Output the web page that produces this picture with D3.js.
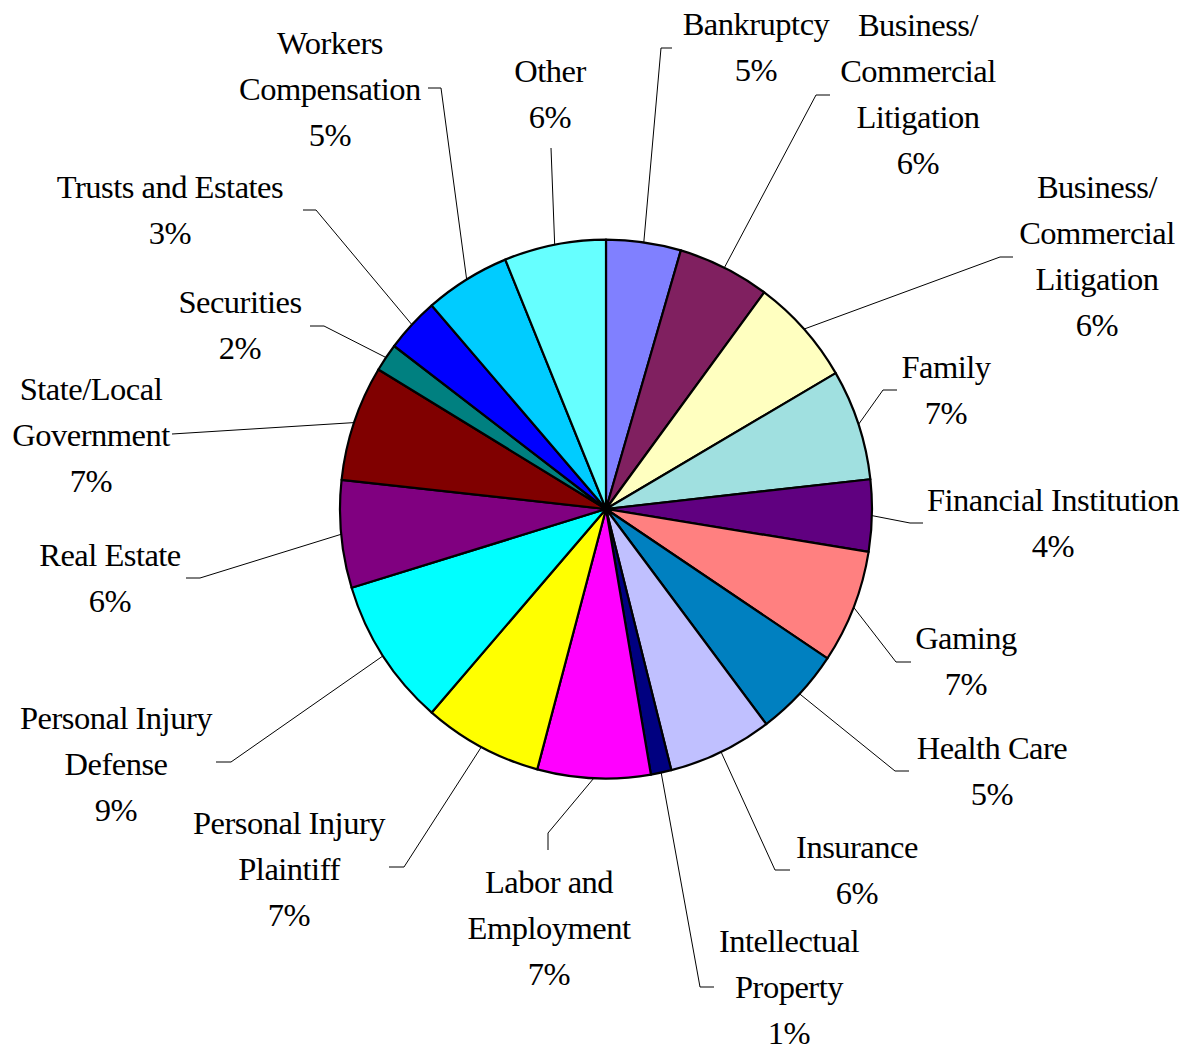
<!DOCTYPE html>
<html>
<head>
<meta charset="utf-8">
<script src="https://cdn.jsdelivr.net/npm/d3@7"></script>
<style>
  body { margin: 0; background: #fff; }
  svg text { font-family: "Liberation Serif", "Times New Roman", serif; font-size: 32.5px; letter-spacing: -0.5px; fill: #000; }
</style>
</head>
<body>
<svg id="chart" width="1190" height="1051"></svg>
<script>
// practice areas, clockwise from 12 o'clock ("|" = line break in the label)
const categories = [
  "Bankruptcy", "Business/|Commercial|Litigation", "Business/|Commercial|Litigation",
  "Family", "Financial Institution", "Gaming", "Health Care", "Insurance",
  "Intellectual|Property", "Labor and|Employment", "Personal Injury|Plaintiff",
  "Personal Injury|Defense", "Real Estate", "State/Local|Government", "Securities",
  "Trusts and Estates", "Workers|Compensation", "Other"
];

// share of total
const values = [4.54, 5.6, 6.45, 6.65, 4.30, 6.81, 5.36, 6.34, 1.25,
                6.86, 7.21, 8.91, 6.45, 6.93, 1.68, 3.29, 5.19, 6.18];

const colors = ["#8080FF", "#802060", "#FFFFC0", "#A0E0E0", "#600080", "#FF8080",
                "#0080C0", "#C0C0FF", "#000080", "#FF00FF", "#FFFF00", "#00FFFF",
                "#800080", "#800000", "#008080", "#0000FF", "#00CCFF", "#66FFFF"];

// label layout: text centre x, first line y, leader elbow, leader tail
const labelLayout = [
  [756, 24, [661, 48], [672, 48]],
  [918, 25, [816, 95], [830, 95]],
  [1097, 187, [1000, 257], [1013, 257]],
  [946, 367, [883, 390], [897, 390]],
  [1053, 500, [910, 523], [923, 523]],
  [966, 638, [896, 662], [911, 662]],
  [992, 748, [895, 771], [909, 771]],
  [857, 847, [775, 870], [790, 870]],
  [789, 941, [700, 987], [714, 987]],
  [549, 882, [548, 833], [548, 850]],
  [289, 823, [404, 867], [389, 867]],
  [116, 718, [231, 762], [216, 762]],
  [110, 555, [200, 578], [186, 578]],
  [91, 389, [172, 434], null],
  [240, 302, [324, 326], [310, 326]],
  [170, 187, [316, 210], [303, 210]],
  [330, 43, [441, 88], [428, 88]],
  [550, 71, [551, 148], null]
];

const cx = 606, cy = 509, radius = 266, stretchY = 1.013, lineH = 46;
const total = d3.sum(values);

const svg = d3.select("#chart");
// the original pie is very slightly taller than wide
const g = svg.append("g").attr("transform", `translate(${cx},${cy}) scale(1,${stretchY})`);

const pie = d3.pie().sort(null).value(d => d);
const arcs = pie(values);

const arc = d3.arc().innerRadius(0).outerRadius(radius);
const edge = d3.arc().innerRadius(radius).outerRadius(radius);

g.selectAll("path.slice")
  .data(arcs)
  .enter()
  .append("path")
  .attr("class", "slice")
  .attr("d", arc)
  .attr("fill", (d, i) => colors[i])
  .attr("stroke", "#000")
  .attr("stroke-width", 2.2)
  .attr("stroke-linejoin", "round");

// leader lines
svg.append("g")
  .selectAll("path")
  .data(arcs)
  .enter()
  .append("path")
  .attr("d", (d, i) => {
    const [sx, sy] = edge.centroid(d);
    const lay = labelLayout[i];
    const pts = [[sx + cx, sy * stretchY + cy], lay[2]];
    if (lay[3]) pts.push(lay[3]);
    return d3.line()(pts);
  })
  .attr("fill", "none")
  .attr("stroke", "#000")
  .attr("stroke-width", 1);

// labels
const labels = svg.append("g")
  .selectAll("text")
  .data(arcs)
  .enter()
  .append("text")
  .attr("text-anchor", "middle");

labels.each(function (d, i) {
  const lay = labelLayout[i];
  const lines = categories[i].split("|");
  lines.push(Math.round(d.data / total * 100) + "%");
  d3.select(this).selectAll("tspan")
    .data(lines)
    .enter()
    .append("tspan")
    .attr("x", lay[0])
    .attr("y", (t, k) => lay[1] + 11 + k * lineH)
    .text(t => t);
});
</script>
</body>
</html>
